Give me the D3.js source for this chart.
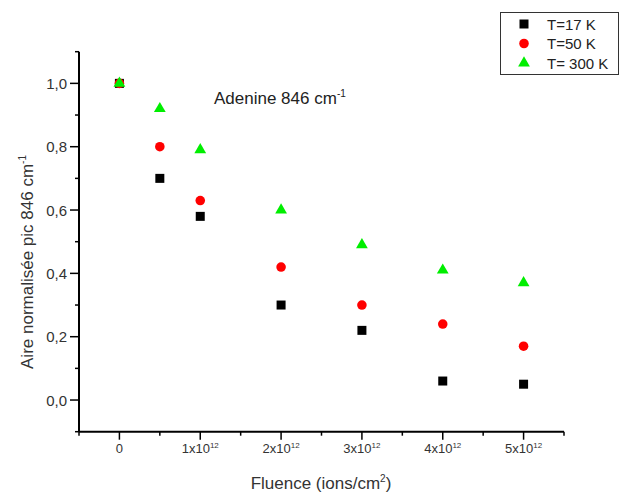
<!DOCTYPE html>
<html><head><meta charset="utf-8">
<script src="https://cdn.jsdelivr.net/npm/d3@7"></script>
<style>body{margin:0;background:#fff}svg{display:block}text{font-family:"Liberation Sans",Arial,sans-serif}</style>
</head><body><svg id="c" width="620" height="497"></svg>
<script>
const fluence = [0, 0.5, 1, 2, 3, 4, 5]; // x 10^12 ions/cm2
const t17 = [1.0, 0.70, 0.58, 0.30, 0.22, 0.06, 0.05];
const t50 = [1.0, 0.80, 0.63, 0.42, 0.30, 0.24, 0.17];
const t300 = [1.0, 0.92, 0.79, 0.60, 0.49, 0.41, 0.37];
const seriesNames = ["T=17 K", "T=50 K", "T= 300 K"];
const xTickValues = [0, 1, 2, 3, 4, 5];
const yTickValues = [0, 0.2, 0.4, 0.6, 0.8, 1.0];

const svg = d3.select("#c");
const x = d3.scaleLinear().domain([-0.5, 5.5]).range([79, 564]);
const y = d3.scaleLinear().domain([-0.1, 1.1]).range([431.7, 51.7]);
const tc = "#333";

// axes
const gx = svg.append("g").attr("transform", `translate(0,${y(-0.1)})`);
gx.append("line").attr("x1", x(-0.5)).attr("x2", x(5.5)).attr("stroke", "#000").attr("stroke-width", 2);
d3.range(-0.5, 5.51, 0.5).forEach(v => {
  const major = xTickValues.includes(v);
  gx.append("line").attr("x1", x(v)).attr("x2", x(v)).attr("y1", 0).attr("y2", major ? 8 : 4)
    .attr("stroke", "#000").attr("stroke-width", 1.5);
});
xTickValues.forEach(v => {
  const t = gx.append("text").attr("x", x(v)).attr("y", 21.5).attr("text-anchor", "middle")
    .attr("font-size", 13).attr("fill", tc);
  if (v === 0) t.text("0");
  else {
    t.append("tspan").text(v + "x10");
    t.append("tspan").attr("font-size", 8).attr("dy", -5).text("12");
  }
});

const gy = svg.append("g").attr("transform", `translate(${x(-0.5)},0)`);
gy.append("line").attr("y1", y(-0.1)).attr("y2", y(1.1)).attr("stroke", "#000").attr("stroke-width", 2);
d3.range(-0.1, 1.101, 0.1).forEach(v => {
  const vr = Math.round(v * 10) / 10;
  const major = yTickValues.some(t => Math.abs(t - vr) < 1e-6);
  gy.append("line").attr("x1", 0).attr("x2", major ? -9 : -4).attr("y1", y(vr)).attr("y2", y(vr))
    .attr("stroke", "#000").attr("stroke-width", 1.5);
});
yTickValues.forEach(v => {
  gy.append("text").attr("x", -12).attr("y", y(v) + 5.5).attr("text-anchor", "end")
    .attr("font-size", 15).attr("fill", tc).text(d3.format(".1f")(v).replace(".", ","));
});

// titles
const xt = svg.append("text").attr("x", 321).attr("y", 489).attr("text-anchor", "middle")
  .attr("font-size", 17).attr("fill", tc);
xt.append("tspan").text("Fluence (ions/cm");
xt.append("tspan").attr("font-size", 10).attr("dy", -7).text("2");
xt.append("tspan").attr("dy", 7).text(")");

const yt = svg.append("text").attr("transform", "translate(33,262) rotate(-90)").attr("text-anchor", "middle")
  .attr("font-size", 17).attr("fill", tc);
yt.append("tspan").text("Aire normalisée pic 846 cm");
yt.append("tspan").attr("font-size", 10).attr("dy", -7).text("-1");

const an = svg.append("text").attr("x", 214).attr("y", 104).attr("font-size", 17).attr("fill", "#222");
an.append("tspan").text("Adenine 846 cm");
an.append("tspan").attr("font-size", 10).attr("dy", -7).text("-1");

// markers
const sq = d3.symbol().type(d3.symbolSquare).size(81);
const ci = d3.symbol().type(d3.symbolCircle).size(72);
const tr = d3.symbol().type(d3.symbolTriangle).size(60);
const series = [
  {vals: t17, sym: sq, color: "#000000"},
  {vals: t50, sym: ci, color: "#ff0000"},
  {vals: t300, sym: tr, color: "#00ee00"}
];
series.forEach(s => {
  svg.append("g").selectAll("path").data(fluence).join("path")
    .attr("transform", (d, i) => `translate(${x(d)},${y(s.vals[i])})`)
    .attr("d", s.sym).attr("fill", s.color);
});

// legend
const lg = svg.append("g");
lg.append("rect").attr("x", 500.5).attr("y", 12.5).attr("width", 118).attr("height", 62)
  .attr("fill", "#fff").attr("stroke", "#333").attr("stroke-width", 1);
series.forEach((s, i) => {
  const yy = 24 + i * 19.5;
  lg.append("path").attr("transform", `translate(524,${yy})`).attr("d", s.sym).attr("fill", s.color);
  lg.append("text").attr("x", 547).attr("y", yy + 5.5).attr("font-size", 15).attr("fill", "#222").text(seriesNames[i]);
});
</script></body></html>
